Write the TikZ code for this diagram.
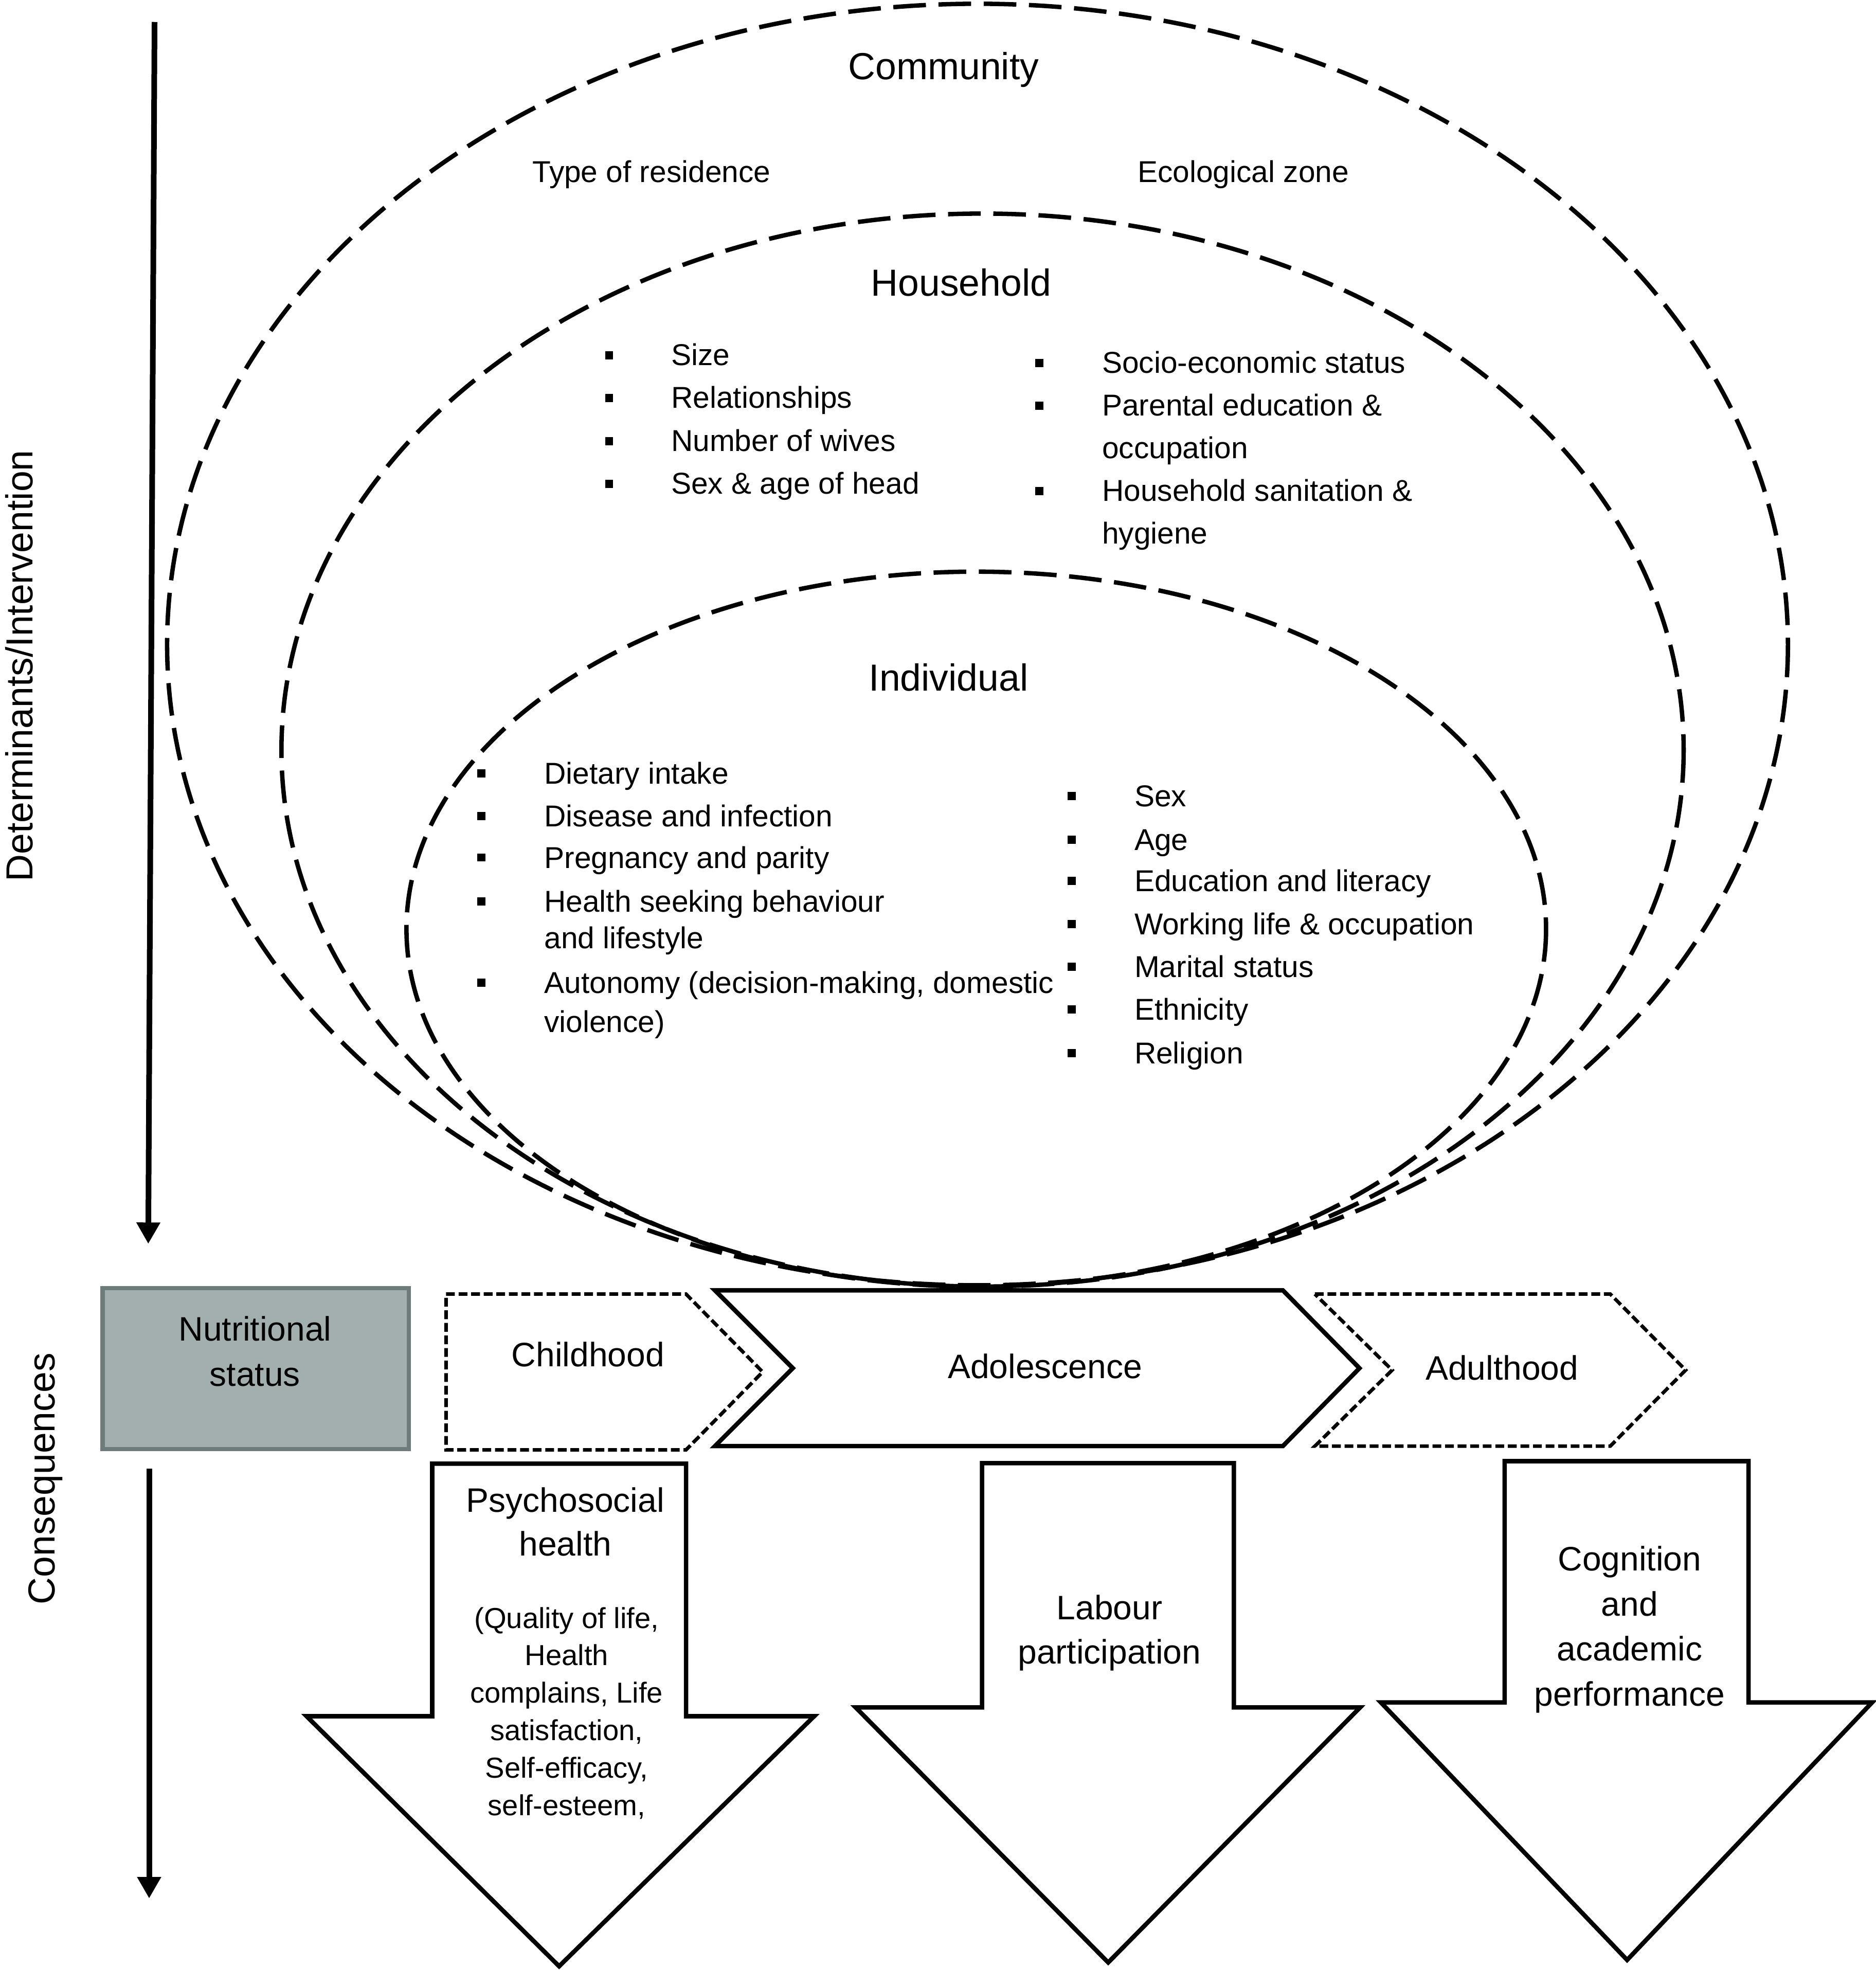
\documentclass[tikz,border=0pt]{standalone}
\usepackage{fontspec}
\setmainfont{Liberation Sans}
\usepackage{xcolor}
\usepackage{tikz}
\usetikzlibrary{arrows.meta}

\definecolor{boxfill}{HTML}{A3AFAE}
\definecolor{boxline}{HTML}{6D7B7A}

\tikzset{
  ovalline/.style={line width=3.5pt, dash pattern=on 26pt off 10pt},
  stagebox/.style={line width=3.5pt},
  stagedashed/.style={line width=2.8pt, dash pattern=on 7pt off 3pt},
  downarrow/.style={line width=3.5pt},
  bigtext/.style={font=\fontsize{30}{36}\selectfont, inner sep=0pt},
  stagetext/.style={font=\fontsize{27}{36}\selectfont, inner sep=0pt, align=center},
  listtext/.style={font=\fontsize{24}{29}\selectfont, inner sep=0pt, anchor=base west},
  sqbullet/.style={fill=black, rectangle, inner sep=0pt, minimum size=6.5pt},
  axisarrow/.style={line width=4.5pt, -{Triangle[width=18pt,length=17pt]}},
}

\begin{document}
\begin{tikzpicture}[x=1pt, y=-1pt]
    \useasboundingbox (0,0) rectangle (1493,1568);

    % levels
    \draw[ovalline] (778,513) ellipse [x radius=645, y radius=510];
    \draw[ovalline] (782,597) ellipse [x radius=558, y radius=427];
    \draw[ovalline] (777,739.5) ellipse [x radius=453.5, y radius=284.5];

    \node[bigtext, anchor=base] (community) at (751,63.4) {Community};
    \node[listtext, anchor=base] (residence) at (518.5,145) {Type of residence};
    \node[listtext, anchor=base] (zone) at (989.5,145) {Ecological zone};

    \node[bigtext, anchor=base] (household) at (765,235.7) {Household};
    \foreach \yb/\txt [count=\i] in {290.7/Size, 324.7/Relationships, 359/Number of wives, 393/Sex \& age of head} {
        \node[listtext] (hhL\i) at (534,\yb) {\txt};
        \node[sqbullet] (hhLb\i) at (484.8,\yb-8) {};
    }
    \foreach \yb/\txt [count=\i] in {296.8/Socio-economic status, 330.8/Parental education \&, 364.8/occupation, 398.8/Household sanitation \&, 432.7/hygiene}
        \node[listtext] (hhR\i) at (877,\yb) {\txt};
    \foreach \yb [count=\i] in {296.8, 330.8, 398.8}
        \node[sqbullet] (hhRb\i) at (827,\yb-8) {};

    \node[bigtext, anchor=base] (individual) at (755,549.7) {Individual};
    \foreach \yb/\txt [count=\i] in {624/Dietary intake, 658/Disease and infection, 691/Pregnancy and parity, 726/Health seeking behaviour, 755/and lifestyle, 790.6/{Autonomy (decision-making, domestic}, 821.7/violence)}
        \node[listtext] (indL\i) at (433,\yb) {\txt};
    \foreach \yb [count=\i] in {624, 658, 691, 726, 790.6}
        \node[sqbullet] (indLb\i) at (383,\yb-8.5) {};
    \foreach \yb/\txt [count=\i] in {642/Sex, 676.8/Age, 709.7/Education and literacy, 744/Working life \& occupation, 778/Marital status, 812/Ethnicity, 846.6/Religion} {
        \node[listtext] (indR\i) at (902.7,\yb) {\txt};
        \node[sqbullet] (indRb\i) at (853,\yb-8.5) {};
    }

    % life stages
    \draw[boxline, fill=boxfill, line width=3.4pt] (81.7,1025.2) rectangle (325.3,1153.3);
    \node[stagetext] (nutri) at (203,1075.5) {Nutritional\\status};

    \draw[stagedashed] (355,1030) -- (546,1030) -- (607,1092) -- (546,1154) -- (355,1154) -- cycle;
    \draw[stagebox] (569,1027) -- (1021,1027) -- (1082,1089) -- (1021,1151) -- (569,1151) -- (631,1089) -- cycle;
    \draw[stagedashed] (1046.5,1030) -- (1281.6,1030) -- (1341.6,1090.5) -- (1281.6,1151) -- (1046.5,1151) -- (1108,1090.5) -- cycle;

    \node[stagetext, anchor=base] (child) at (468,1087.6) {Childhood};
    \node[stagetext, anchor=base] (adol) at (831.7,1097) {Adolescence};
    \node[stagetext, anchor=base] (adult) at (1195.4,1098.5) {Adulthood};

    % consequences
    \draw[downarrow] (344,1165) -- (546,1165) -- (546,1366) -- (648,1366) -- (445,1565) -- (244,1366) -- (344,1366) -- cycle;
    \draw[downarrow] (781.6,1164.6) -- (982,1164.6) -- (982,1359) -- (1082.5,1359) -- (882,1562) -- (681,1359) -- (781.6,1359) -- cycle;
    \draw[downarrow] (1197.5,1163) -- (1391.6,1163) -- (1391.6,1355) -- (1490,1355) -- (1295,1560) -- (1099,1355) -- (1197.5,1355) -- cycle;

    \node[stagetext, font=\fontsize{27}{35}\selectfont] (psych) at (450,1211.3) {Psychosocial\\health};
    \node[inner sep=0pt, align=center, font=\fontsize{23}{29.8}\selectfont] (psychsub) at (451,1363.5)
        {(Quality of life,\\Health\\complains, Life\\satisfaction,\\Self-efficacy,\\self-esteem,};
    \node[stagetext, font=\fontsize{27}{35}\selectfont] (labour) at (883,1299.7) {Labour\\participation};
    \node[stagetext] (cognition) at (1297,1297) {Cognition\\and\\academic\\performance};

    % axes
    \coordinate (dtop) at (123,17.5);
    \coordinate (dend) at (118,990);
    \coordinate (ctop) at (118.7,1169);
    \coordinate (cend) at (118.7,1511);
    \draw[axisarrow] (dtop) -- (dend);
    \draw[axisarrow] (ctop) -- (cend);

    \node[bigtext, rotate=90, anchor=base] (determ) at (26,530) {Determinants/Intervention};
    \node[bigtext, rotate=90, anchor=base] (conseq) at (43.7,1177) {Consequences};
\end{tikzpicture}
\end{document}
